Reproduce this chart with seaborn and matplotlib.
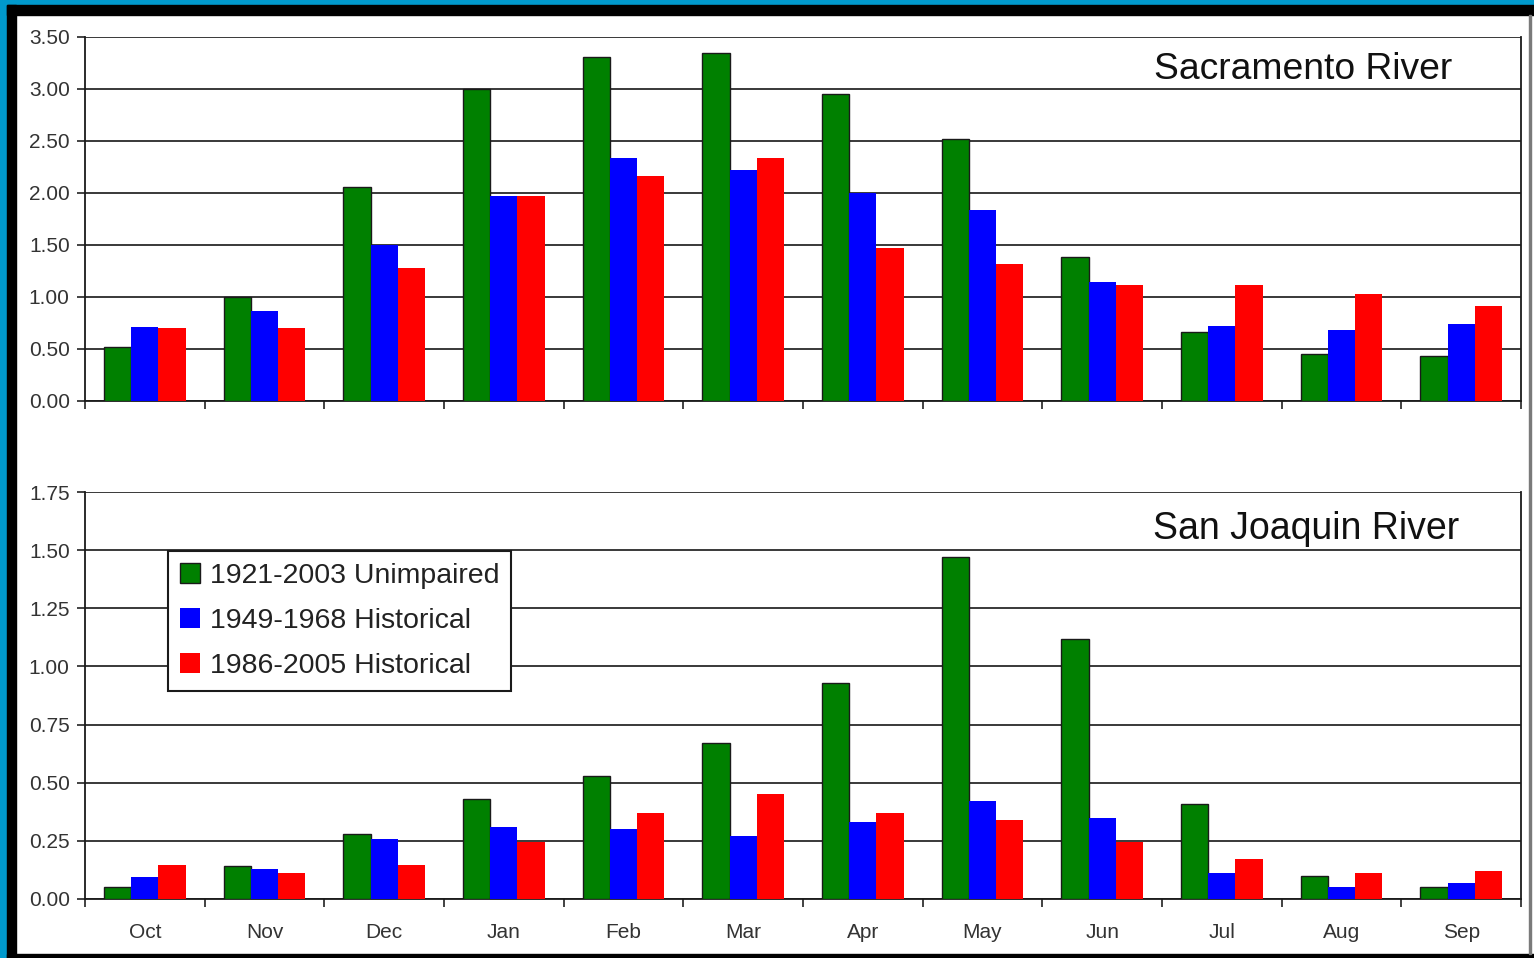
import seaborn as sns
import pandas as pd
import numpy as np
import matplotlib.pyplot as plt
from matplotlib.patches import Rectangle, Patch

months = ["Oct", "Nov", "Dec", "Jan", "Feb", "Mar", "Apr", "May", "Jun", "Jul", "Aug", "Sep"]
series = ["1921-2003 Unimpaired", "1949-1968 Historical", "1986-2005 Historical"]
colors = ["#008000", "#0000ff", "#ff0000"]

sac_unimpaired = [0.52, 1.00, 2.06, 3.00, 3.31, 3.35, 2.95, 2.52, 1.38, 0.66, 0.45, 0.43]
sac_hist_4968 = [0.71, 0.87, 1.50, 1.97, 2.34, 2.22, 2.00, 1.84, 1.14, 0.72, 0.68, 0.74]
sac_hist_8605 = [0.70, 0.70, 1.28, 1.97, 2.16, 2.34, 1.47, 1.32, 1.12, 1.12, 1.03, 0.91]

sj_unimpaired = [0.05, 0.14, 0.28, 0.43, 0.53, 0.67, 0.93, 1.47, 1.12, 0.41, 0.10, 0.05]
sj_hist_4968 = [0.095, 0.13, 0.26, 0.31, 0.30, 0.27, 0.33, 0.42, 0.35, 0.11, 0.053, 0.07]
sj_hist_8605 = [0.147, 0.113, 0.147, 0.245, 0.37, 0.45, 0.37, 0.34, 0.245, 0.17, 0.113, 0.122]


def to_long(a, b, c):
    rows = []
    for vals, name in zip([a, b, c], series):
        for m, v in zip(months, vals):
            rows.append({"month": m, "series": name, "value": v})
    return pd.DataFrame(rows)


sac = to_long(sac_unimpaired, sac_hist_4968, sac_hist_8605)
sj = to_long(sj_unimpaired, sj_hist_4968, sj_hist_8605)

sns.set_style("white")
plt.rcParams["font.family"] = ["Liberation Sans", "DejaVu Sans"]

W, H = 1534, 958
fig = plt.figure(figsize=(W / 100, H / 100), dpi=100)
fig.patch.set_facecolor("white")


def px_rect(x0, y0, x1, y1, color):
    # pixel coords from top-left
    fig.patches.append(Rectangle((x0 / W, 1 - y1 / H), (x1 - x0) / W, (y1 - y0) / H,
                                 transform=fig.transFigure, color=color, zorder=-1))


px_rect(0, 0, W, 5, "#0099cc")
px_rect(0, 0, 7, H, "#0099cc")
px_rect(7, 5, W, 15, "#000000")
px_rect(7, 5, 16, H, "#000000")
px_rect(7, 954, W, H, "#000000")
px_rect(1529, 15, 1531, 954, "#7a7a7a")

ax1 = fig.add_axes([85 / W, 1 - 401 / H, 1436 / W, 364 / H])
ax2 = fig.add_axes([85 / W, 1 - 899 / H, 1436 / W, 407 / H])


def draw(ax, df, ymax, step, title, tx, ty, fs, labels):
    sns.barplot(data=df, x="month", y="value", hue="series", order=months,
                hue_order=series, palette=colors, width=0.68, gap=0,
                saturation=1, legend=False, ax=ax, zorder=3)
    for i, cont in enumerate(ax.containers):
        for p in cont:
            if i == 0:
                p.set_edgecolor("#1a1a1a")
                p.set_linewidth(1.0)
            else:
                p.set_linewidth(0)
    ax.set_xlim(-0.5, 11.5)
    ax.set_ylim(0, ymax)
    ax.set_yticks(np.arange(0, ymax + step / 2, step))
    ax.set_yticklabels([f"{v:.2f}" for v in np.arange(0, ymax + step / 2, step)],
                       fontsize=15, color="#333333")
    ax.yaxis.grid(True, color="#2a2a2a", linewidth=1.3, zorder=1)
    ax.set_axisbelow(True)
    ax.tick_params(axis="y", direction="out", length=6, width=1.2, color="#222222", pad=5, left=True)
    ax.set_xticks(range(12))
    ax.set_xticks(np.arange(-0.5, 12, 1), minor=True)
    ax.tick_params(axis="x", which="major", length=0, pad=17, labelsize=15, labelcolor="#333333")
    ax.tick_params(axis="x", which="minor", direction="out", length=6, width=1.2, color="#222222", bottom=True)
    if not labels:
        ax.set_xticklabels([])
    ax.set_xlabel("")
    ax.set_ylabel("")
    for s in ["left", "bottom", "right"]:
        ax.spines[s].set_visible(True)
        ax.spines[s].set_color("#1a1a1a")
        ax.spines[s].set_linewidth(1.3)
    ax.spines["top"].set_visible(False)
    ax.text(tx, ty, title, transform=ax.transAxes, ha="right", va="center",
            fontsize=fs, color="#111111")


draw(ax1, sac, 3.5, 0.5, "Sacramento River", 0.952, 0.912, 26.8, False)
draw(ax2, sj, 1.75, 0.25, "San Joaquin River", 0.957, 0.910, 27, True)

handles = [Patch(facecolor=c, edgecolor="#1a1a1a" if i == 0 else c, linewidth=1 if i == 0 else 0)
           for i, c in enumerate(colors)]
leg = ax2.legend(handles, series, loc="upper left", bbox_to_anchor=((168 - 85) / 1436, (899 - 551) / 407),
                 borderaxespad=0, fontsize=20.5, frameon=True, fancybox=False, framealpha=1,
                 handlelength=0.7, handleheight=0.7, handletextpad=0.35, labelspacing=0.66,
                 borderpad=0.42)
leg.get_frame().set_edgecolor("#1a1a1a")
leg.get_frame().set_linewidth(1.5)
for t in leg.get_texts():
    t.set_color("#222222")
leg.set_zorder(10)

fig.savefig("out.png", dpi=100)
